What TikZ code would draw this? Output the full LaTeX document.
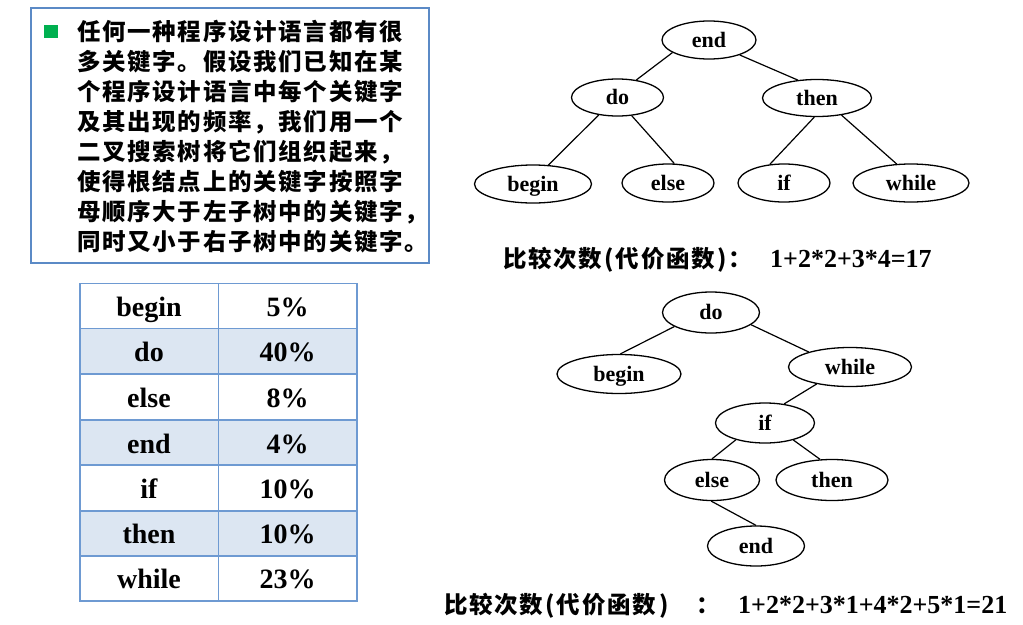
\documentclass[tikz,border=0pt]{standalone}
\usepackage{fontspec}
\setmainfont{Liberation Serif}
\newfontfamily\cjk{Noto Sans CJK SC}
\usetikzlibrary{shapes.geometric}

% fixed-pitch setting of CJK text: every character gets a box of \cjkpitch
\newcommand\cjkpitch{25.2pt}
\def\gridline#1{\gridloop#1\relax}
\def\gridloop#1{\ifx\relax#1\else\makebox[\cjkpitch][c]{#1}\expandafter\gridloop\fi}

\definecolor{boxblue}{HTML}{5B8AC6}
\definecolor{gridblue}{HTML}{6E9AD2}
\definecolor{rowblue}{HTML}{DCE6F2}
\definecolor{bulletgreen}{HTML}{00B050}

\begin{document}
\begin{tikzpicture}[x=1pt,y=-1pt,
  kw/.style={ellipse, draw, line width=1.3pt, inner sep=0pt,
    text height=14pt, text depth=0pt,
    font=\fontsize{22}{22}\selectfont\bfseries},
  edge/.style={line width=1.2pt},
  para/.style={anchor=base west, inner sep=0pt,
    font=\cjk\bfseries\fontsize{23.5}{23.5}\selectfont},
  cell/.style={anchor=base, inner sep=0pt,
    font=\fontsize{28}{28}\selectfont\bfseries},
  captxt/.style={anchor=base west, inner sep=0pt,
    font=\cjk\bfseries\fontsize{23.5}{23.5}\selectfont},
  capnum/.style={anchor=base west, inner sep=0pt,
    font=\fontsize{26}{26}\selectfont\bfseries}]
\useasboundingbox (0,0) rectangle (1023,624);
\fill[white] (0,0) rectangle (1023,624);

% ---- text box ----
\draw[boxblue, line width=2pt] (31,8.3) rectangle (429,263);
\fill[bulletgreen] (43.5,25) rectangle (58,37.5);
\node[para] (p1) at (76,40.5)  {\gridline{任何一种程序设计语言都有很}};
\node[para] (p2) at (76,70.5)  {\gridline{多关键字。假设我们已知在某}};
\node[para] (p3) at (76,100.6) {\gridline{个程序设计语言中每个关键字}};
\node[para] (p4) at (76,130.6) {\gridline{及其出现的频率，我们用一个}};
\node[para] (p5) at (76,160.7) {\gridline{二叉搜索树将它们组织起来，}};
\node[para] (p6) at (76,190.7) {\gridline{使得根结点上的关键字按照字}};
\node[para] (p7) at (76,220.7) {\gridline{母顺序大于左子树中的关键字，}};
\node[para] (p8) at (76,250.8) {\gridline{同时又小于右子树中的关键字。}};

% ---- frequency table ----
\fill[rowblue] (80,328.3) rectangle (356.7,374);
\fill[rowblue] (80,420) rectangle (356.7,465);
\fill[rowblue] (80,511) rectangle (356.7,555.7);
\begin{scope}[gridblue, line width=1.6pt]
  \draw (80,283.3) rectangle (356.7,600.7);
  \draw (218.3,283.3) -- (218.3,600.7);
  \foreach \y in {328.3,374,420,465,511,555.7}
    \draw (80,\y) -- (356.7,\y);
\end{scope}
\node[cell] (k1) at (149,316.3) {begin}; \node[cell] (v1) at (287.5,316.3) {5\%};
\node[cell] (k2) at (149,361.6) {do};    \node[cell] (v2) at (287.5,361.6) {40\%};
\node[cell] (k3) at (149,407.5) {else};  \node[cell] (v3) at (287.5,407.5) {8\%};
\node[cell] (k4) at (149,453)   {end};   \node[cell] (v4) at (287.5,453)   {4\%};
\node[cell] (k5) at (149,498.5) {if};    \node[cell] (v5) at (287.5,498.5) {10\%};
\node[cell] (k6) at (149,543.8) {then};  \node[cell] (v6) at (287.5,543.8) {10\%};
\node[cell] (k7) at (149,588.7) {while}; \node[cell] (v7) at (287.5,588.7) {23\%};

% ---- balanced tree ----
\node[kw, minimum width=94pt,  minimum height=38pt] (a-end)   at (709,40)    {end};
\node[kw, minimum width=92pt,  minimum height=37pt] (a-do)    at (617.5,97.5) {do};
\node[kw, minimum width=109pt, minimum height=37pt] (a-then)  at (817,98)    {then};
\node[kw, minimum width=117pt, minimum height=38pt] (a-begin) at (533,184)   {begin};
\node[kw, minimum width=92pt,  minimum height=38pt] (a-else)  at (668,183)   {else};
\node[kw, minimum width=92pt,  minimum height=38pt] (a-if)    at (784,183)   {if};
\node[kw, minimum width=116pt, minimum height=38pt] (a-while) at (911,183)   {while};
\draw[edge] (a-end.199) -- (a-do.43);
\draw[edge] (a-end.334) -- (a-then.137);
\draw[edge] (a-do.223) -- (a-begin.51);
\draw[edge] (a-do.308) -- (a-else.72);
\draw[edge] (a-then.262) -- (a-if.127);
\draw[edge] (a-then.325) -- (a-while.127);
\node[captxt] (c1) at (502,267)
  {\gridline{比较次数}\makebox[12pt]{(}\gridline{代价函数}\makebox[12pt]{)}\gridline{：}};
\node[capnum] (n1) at (770,267) {1+2*2+3*4=17};

% ---- frequency-weighted tree ----
\node[kw, minimum width=97pt,  minimum height=41pt] (b-do)    at (711,312.5) {do};
\node[kw, minimum width=124pt, minimum height=39pt] (b-begin) at (619,374)   {begin};
\node[kw, minimum width=123pt, minimum height=39pt] (b-while) at (850,367)   {while};
\node[kw, minimum width=99pt,  minimum height=40pt] (b-if)    at (765,423)   {if};
\node[kw, minimum width=95pt,  minimum height=41pt] (b-else)  at (712,480)   {else};
\node[kw, minimum width=112pt, minimum height=41pt] (b-then)  at (832,480)   {then};
\node[kw, minimum width=97pt,  minimum height=40pt] (b-end)   at (756,546)   {end};
\draw[edge] (b-do.201) -- (b-begin.86);
\draw[edge] (b-do.343) -- (b-while.160);
\draw[edge] (b-while.207) -- (b-if.45);
\draw[edge] (b-if.210) -- (b-else.90);
\draw[edge] (b-if.329) -- (b-then.120);
\draw[edge] (b-else.268) -- (b-end.90);
\node[captxt] (c2) at (443,613)
  {\gridline{比较次数}\makebox[12pt]{(}\gridline{代价函数}\makebox[14pt]{)}};
\node[captxt] (c2colon) at (695,613) {\gridline{：}};
\node[capnum] (n2) at (738,613) {1+2*2+3*1+4*2+5*1=21};
\end{tikzpicture}
\end{document}
